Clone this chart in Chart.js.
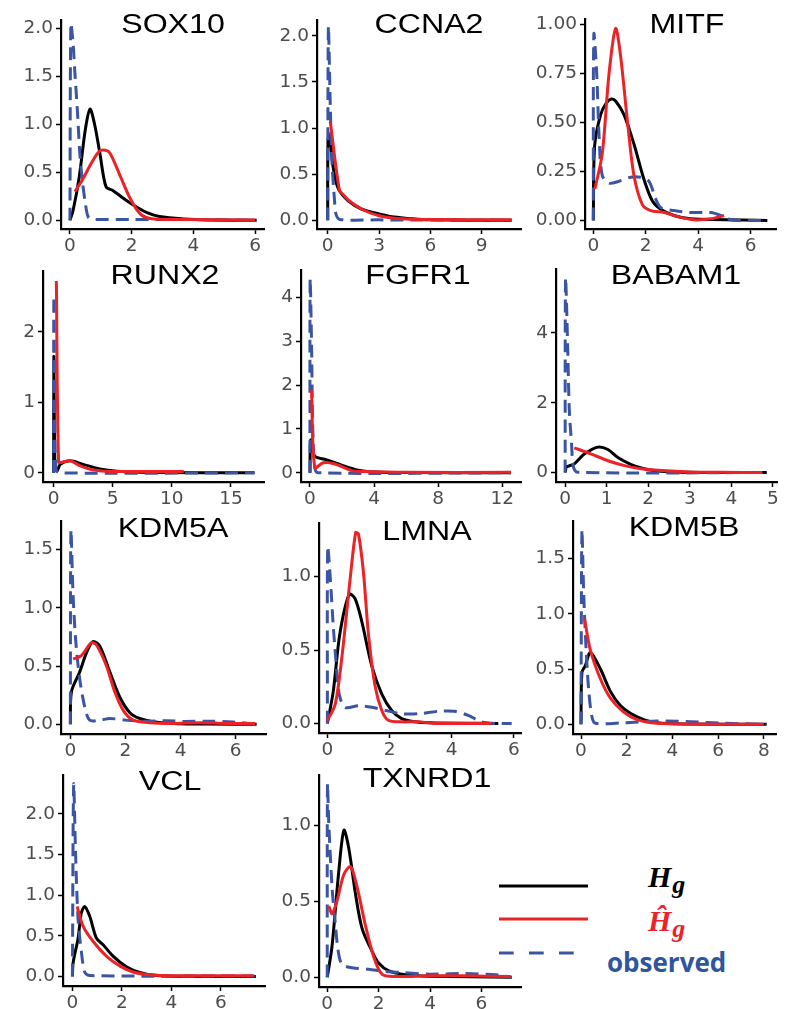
<!DOCTYPE html>
<html>
<head>
<meta charset="utf-8">
<script src="https://cdn.jsdelivr.net/npm/chart.js@4.4.1/dist/chart.umd.min.js"></script>
<style>
  body { margin: 0; background: #fff; }
  #page { position: relative; width: 787px; height: 1009px; overflow: hidden; background: #fff; }
  .panel { position: absolute; }
  .title {
    position: absolute;
    font-family: "Liberation Sans", Arial, sans-serif;
    font-size: 27px;
    line-height: 26px;
    color: #000;
    white-space: nowrap;
    transform: translateX(-50%) scaleX(1.19);
  }
  .lg { position: absolute; white-space: nowrap; }
  .math { font-family: "Liberation Serif", "Times New Roman", serif; font-weight: bold; font-style: italic; font-size: 30px; line-height: 30px; }
  .math .sub { font-size: 26px; position: relative; top: 6px; margin-left: 1px; }
  .obs { font-family: "Open Sans", sans-serif; font-weight: bold; font-size: 26px; line-height: 26px; color: #2f55a0; }
</style>
</head>
<body>
<div id="page">
  <svg class="lg" style="left:495px;top:875px" width="100" height="90">
    <line x1="4" y1="11" x2="93" y2="11" stroke="#000" stroke-width="3"/>
    <line x1="4" y1="44" x2="93" y2="44" stroke="#ec2227" stroke-width="3"/>
    <line x1="4" y1="78" x2="93" y2="78" stroke="#3a55a4" stroke-width="3" stroke-dasharray="14.7 15.3"/>
  </svg>
  <div class="lg math" style="left:648px;top:862px;color:#000">H<span class="sub">g</span></div>
  <div class="lg math" style="left:648px;top:906px;color:#ec2227">Ĥ<span class="sub">g</span></div>
  <div class="lg obs" style="left:607px;top:949px">observed</div>
</div>
<script>
const genes = ["SOX10", "CCNA2", "MITF", "RUNX2", "FGFR1", "BABAM1", "KDM5A", "LMNA", "KDM5B", "VCL", "TXNRD1"];

// H_g (black), H_g hat (red), observed (blue dashed) as [x, density]
const SOX10_H = [[0,0],[0.1,0.1],[0.3,0.45],[0.5,0.95],[0.65,1.16],[0.8,1.0],[0.97,0.7],[1.17,0.35],[1.4,0.31],[1.73,0.23],[2.05,0.16],[2.5,0.08],[2.9,0.04],[3.7,0.015],[4.5,0.005],[6.05,0]];
const SOX10_HAT = [[0.16,0.3],[0.4,0.42],[0.7,0.6],[0.95,0.72],[1.15,0.73],[1.3,0.7],[1.62,0.47],[1.95,0.23],[2.27,0.07],[2.6,0.02],[3.5,0.008],[6,0.005]];
const SOX10_OBS = [[0,0],[0.03,2.05],[0.1,1.85],[0.16,1.54],[0.24,1.15],[0.32,0.7],[0.4,0.42],[0.49,0.2],[0.6,0.03],[0.8,0.01],[2,0.01],[4,0.008],[6.05,0]];

const CCNA2_H = [[0,0],[0.02,0.88],[0.12,0.92],[0.3,0.6],[0.6,0.35],[1.2,0.21],[2,0.12],[3,0.07],[3.9,0.035],[4.9,0.017],[6,0.005],[10.75,0]];
const CCNA2_HAT = [[0.15,1.07],[0.68,0.33],[0.9,0.28],[1.2,0.22],[2,0.12],[3,0.05],[4.3,0.017],[6,0.008],[10.75,0.007]];
const CCNA2_OBS = [[0,0],[0.04,2.1],[0.15,1.25],[0.25,0.63],[0.4,0.21],[0.48,0.07],[0.7,0.01],[3,0.005],[10.75,0]];

const MITF_H = [[0,0],[0.05,0.38],[0.28,0.54],[0.5,0.6],[0.69,0.62],[0.85,0.61],[1.17,0.54],[1.55,0.39],[1.93,0.21],[2.25,0.1],[2.57,0.057],[3.08,0.025],[3.7,0.008],[6.64,0]];
const MITF_HAT = [[0.06,0.16],[0.34,0.34],[0.6,0.75],[0.85,0.98],[1.04,0.84],[1.3,0.51],[1.55,0.23],[1.87,0.08],[2.19,0.05],[2.7,0.04],[3.2,0.02],[3.84,0.003],[4.48,0.008],[4.99,0.025]];
const MITF_OBS = [[0,0],[0.02,0.95],[0.13,0.75],[0.22,0.43],[0.34,0.23],[0.6,0.19],[0.98,0.2],[1.42,0.22],[1.8,0.22],[2.12,0.2],[2.38,0.11],[2.57,0.066],[3.08,0.05],[3.7,0.04],[4.48,0.04],[4.86,0.025],[5.1,0.008],[5.5,0],[6.64,0]];

const RUNX2_H = [[0,0],[0.02,1.65],[0.12,0.05],[0.3,0.03],[0.56,0.12],[1.4,0.17],[2.5,0.12],[3.9,0.055],[5.35,0.023],[8,0.005],[17,0]];
const RUNX2_HAT = [[0.23,2.72],[0.42,0.15],[0.7,0.15],[1.4,0.17],[2.25,0.1],[3.4,0.04],[4.8,0.02],[11,0.02]];
const RUNX2_OBS = [[0,0],[0.02,2.5],[0.1,0.8],[0.2,0.05],[0.5,0],[17,0]];

const FGFR1_H = [[0,0],[0.05,0.75],[0.3,0.38],[1,0.3],[2,0.17],[3,0.06],[4,0.02],[6,0.005],[12.54,0]];
const FGFR1_HAT = [[0.1,1.88],[0.3,0.12],[0.83,0.23],[1.56,0.2],[2.6,0.05],[3.4,0.03],[6,0.01],[12.54,0.01]];
const FGFR1_OBS = [[0,0],[0.01,4.4],[0.1,2.9],[0.15,1.44],[0.2,0.7],[0.3,0.12],[0.5,0],[12.54,0]];

const BABAM1_H = [[0,0],[0.01,0.06],[0.03,0.16],[0.22,0.25],[0.46,0.53],[0.79,0.73],[1.03,0.66],[1.27,0.43],[1.59,0.23],[1.9,0.11],[2.23,0.046],[2.63,0.02],[3.5,0.005],[4.86,0]];
const BABAM1_HAT = [[0.22,0.71],[0.63,0.53],[1.03,0.34],[1.43,0.2],[1.83,0.11],[2.23,0.065],[3.03,0.02],[3.8,0.01],[4.75,0]];
const BABAM1_OBS = [[0,0],[0.01,5.55],[0.06,3.66],[0.1,1.8],[0.15,0.9],[0.2,0.16],[0.3,0.01],[4.86,0]];

const KDM5A_H = [[0,0],[0.04,0.28],[0.34,0.45],[0.58,0.61],[0.82,0.71],[1.07,0.67],[1.43,0.45],[1.8,0.23],[2.16,0.1],[2.52,0.05],[3,0.022],[3.73,0.008],[5,0.002],[6.76,0]];
const KDM5A_HAT = [[0.1,0.56],[0.4,0.59],[0.76,0.7],[0.95,0.68],[1.31,0.5],[1.61,0.28],[1.92,0.12],[2.28,0.036],[2.88,0.014],[3.73,0.008],[4.7,0.014],[5.67,0.008],[6.7,0.008]];
const KDM5A_OBS = [[0,0],[0.02,1.66],[0.1,1.1],[0.2,0.7],[0.34,0.39],[0.52,0.15],[0.7,0.036],[1.07,0.036],[1.43,0.05],[2,0.036],[2.64,0.027],[3.5,0.03],[4.1,0.025],[4.95,0.027],[5.9,0.02],[6.76,0]];

const LMNA_H = [[0,0],[0.19,0.22],[0.4,0.61],[0.7,0.88],[0.89,0.85],[1.1,0.7],[1.43,0.39],[1.75,0.2],[2.07,0.088],[2.39,0.033],[2.82,0.011],[3.25,0.004],[5.5,0]];
const LMNA_HAT = [[0,0.02],[0.25,0.13],[0.46,0.44],[0.73,0.98],[0.91,1.3],[1,1.29],[1.16,1.03],[1.32,0.61],[1.53,0.26],[1.75,0.088],[1.96,0.022],[2.39,0.011],[2.93,0.011],[3.46,0],[5.28,0]];
const LMNA_OBS = [[0,0],[0.01,1.2],[0.09,1],[0.19,0.66],[0.27,0.44],[0.38,0.2],[0.57,0.11],[1,0.12],[1.43,0.11],[1.85,0.09],[2.39,0.066],[2.93,0.066],[3.57,0.083],[4.1,0.083],[4.53,0.055],[4.96,0.011],[5.39,0],[5.93,0]];

const KDM5B_H = [[0,0],[0.04,0.47],[0.19,0.53],[0.41,0.65],[0.85,0.5],[1.28,0.3],[1.72,0.17],[2.16,0.1],[2.74,0.043],[3.33,0.014],[4.5,0.003],[8.12,0]];
const KDM5B_HAT = [[0.15,0.96],[0.41,0.67],[0.85,0.41],[1.28,0.24],[1.87,0.11],[2.45,0.043],[3.33,0.009],[4.8,0.003],[8,0]];
const KDM5B_OBS = [[0,0],[0.04,1.75],[0.12,1.17],[0.23,0.65],[0.34,0.3],[0.48,0.067],[0.63,0.01],[1.87,0.014],[3.33,0.03],[4.8,0.023],[6.2,0.01],[8.12,0]];

const VCL_H = [[0,0],[0.03,0.17],[0.23,0.47],[0.36,0.78],[0.5,0.86],[0.7,0.74],[0.97,0.47],[1.24,0.39],[1.64,0.25],[2.18,0.12],[2.72,0.05],[3.4,0.012],[4.5,0.002],[7.41,0]];
const VCL_HAT = [[0.19,0.86],[0.43,0.62],[0.84,0.43],[1.37,0.25],[1.91,0.13],[2.45,0.055],[3.13,0.02],[4.07,0.008],[7.3,0.008]];
const VCL_OBS = [[0,0],[0.05,2.36],[0.13,1.49],[0.23,0.7],[0.36,0.31],[0.5,0.05],[0.7,0.01],[7.41,0.005]];

const TXNRD1_H = [[0,0],[0.03,0.03],[0.19,0.21],[0.45,0.7],[0.65,0.97],[0.84,0.85],[1.1,0.55],[1.36,0.32],[1.75,0.17],[2,0.095],[2.4,0.042],[3.05,0.017],[3.96,0.008],[7.18,0]];
const TXNRD1_HAT = [[0.06,0.47],[0.19,0.42],[0.39,0.51],[0.65,0.68],[0.91,0.73],[1.17,0.59],[1.49,0.34],[1.82,0.13],[2.14,0.02],[2.66,0.006],[3.96,0.01],[5.26,0.01],[7.14,0.006]];
const TXNRD1_OBS = [[0,0],[0.01,1.27],[0.06,1.02],[0.19,0.59],[0.3,0.38],[0.43,0.17],[0.58,0.085],[0.97,0.064],[1.62,0.053],[2.27,0.038],[2.92,0.032],[3.96,0.021],[5.26,0.025],[6.56,0.017],[7.18,0]];

const hgSeries = [SOX10_H, CCNA2_H, MITF_H, RUNX2_H, FGFR1_H, BABAM1_H, KDM5A_H, LMNA_H, KDM5B_H, VCL_H, TXNRD1_H];
const hatSeries = [SOX10_HAT, CCNA2_HAT, MITF_HAT, RUNX2_HAT, FGFR1_HAT, BABAM1_HAT, KDM5A_HAT, LMNA_HAT, KDM5B_HAT, VCL_HAT, TXNRD1_HAT];
const obsSeries = [SOX10_OBS, CCNA2_OBS, MITF_OBS, RUNX2_OBS, FGFR1_OBS, BABAM1_OBS, KDM5A_OBS, LMNA_OBS, KDM5B_OBS, VCL_OBS, TXNRD1_OBS];

// tick labels
const xTicks = [[0,2,4,6], [0,3,6,9], [0,2,4,6], [0,5,10,15], [0,4,8,12], [0,1,2,3,4,5], [0,2,4,6], [0,2,4,6], [0,2,4,6,8], [0,2,4,6], [0,2,4,6]];
const yTicks = [[0,0.5,1,1.5,2], [0,0.5,1,1.5,2], [0,0.25,0.5,0.75,1], [0,1,2], [0,1,2,3,4], [0,2,4], [0,0.5,1,1.5], [0,0.5,1], [0,0.5,1,1.5], [0,0.5,1,1.5,2], [0,0.5,1]];
const yDecimals = [1, 1, 2, 0, 0, 0, 1, 1, 1, 1, 1];

// plot boxes (page px) and axis ranges
const panels = [
  { l: 61,  t: 12,  r: 264, b: 229, x: [-0.29, 6.29],  y: [-0.09, 2.088],   tx: 173, ty: 24 },
  { l: 317, t: 12,  r: 521, b: 229, x: [-0.626, 11.3], y: [-0.094, 2.17],   tx: 429, ty: 24 },
  { l: 585, t: 11,  r: 776, b: 229, x: [-0.317, 6.97], y: [-0.044, 1.028],  tx: 687, ty: 24 },
  { l: 43,  t: 263, r: 264, b: 482, x: [-0.9, 17.8],   y: [-0.13, 2.86],    tx: 165, ty: 275 },
  { l: 301, t: 262, r: 521, b: 482, x: [-0.56, 13.17], y: [-0.21, 4.62],    tx: 418, ty: 275 },
  { l: 556, t: 261, r: 777, b: 482, x: [-0.22, 5.1],   y: [-0.27, 5.83],    tx: 676, ty: 275 },
  { l: 61,  t: 513, r: 266, b: 734, x: [-0.34, 7.1],   y: [-0.083, 1.743],  tx: 173, ty: 528 },
  { l: 319, t: 515, r: 521, b: 733, x: [-0.27, 6.23],  y: [-0.065, 1.365],  tx: 427, ty: 531 },
  { l: 573, t: 513, r: 776, b: 734, x: [-0.35, 8.53],  y: [-0.0875, 1.8375], tx: 684, ty: 527 },
  { l: 63,  t: 767, r: 265, b: 986, x: [-0.38, 7.78],  y: [-0.118, 2.478],  tx: 170, ty: 781 },
  { l: 319, t: 767, r: 521, b: 987, x: [-0.32, 7.54],  y: [-0.0635, 1.3335], tx: 427, ty: 778 }
];

const YW = 50, TP = 6, RP = 6, XH = 30;
const page = document.getElementById("page");
const toXY = (pairs) => pairs.map(([x, y]) => ({ x, y }));

function axisStyle(tickVals, fmt, isY, size, range) {
  return {
    type: "linear",
    min: range[0],
    max: range[1],
    afterBuildTicks: (axis) => { axis.ticks = tickVals.map((v) => ({ value: v })); },
    afterFit: (axis) => { if (isY) axis.width = size; else axis.height = size; },
    ticks: {
      callback: fmt,
      color: "#4d4d4d",
      font: { family: "DejaVu Sans", size: 18.5 },
      padding: isY ? 3 : 1,
      maxRotation: 0,
      autoSkip: false
    },
    grid: { display: true, drawOnChartArea: false, drawTicks: true, tickLength: 5, tickColor: "#000", tickWidth: 1.5 },
    border: { display: true, color: "#000", width: 2.2 }
  };
}

panels.forEach((p, i) => {
  const box = document.createElement("div");
  box.className = "panel";
  box.style.left = (p.l - YW) + "px";
  box.style.top = (p.t - TP) + "px";
  box.style.width = (YW + (p.r - p.l) + RP) + "px";
  box.style.height = (TP + (p.b - p.t) + XH) + "px";
  const canvas = document.createElement("canvas");
  box.appendChild(canvas);
  page.appendChild(box);

  const title = document.createElement("div");
  title.className = "title";
  title.textContent = genes[i];
  title.style.left = p.tx + "px";
  title.style.top = (p.ty - 13) + "px";
  page.appendChild(title);

  new Chart(canvas, {
    type: "line",
    data: {
      datasets: [
        { label: "Ĥg", data: toXY(hatSeries[i]), borderColor: "#ec2227", borderWidth: 3, tension: 0.3 },
        { label: "observed", data: toXY(obsSeries[i]), borderColor: "#3a55a4", borderWidth: 3, borderDash: [13, 7], tension: 0.3 },
        { label: "Hg", data: toXY(hgSeries[i]), borderColor: "#000", borderWidth: 3, tension: 0.3 }
      ]
    },
    options: {
      responsive: true,
      maintainAspectRatio: false,
      animation: false,
      events: [],
      layout: { padding: { top: TP, right: RP, left: 0, bottom: 0 } },
      elements: { point: { radius: 0 }, line: { fill: false, borderCapStyle: "butt" } },
      plugins: { legend: { display: false }, tooltip: { enabled: false } },
      scales: {
        x: axisStyle(xTicks[i], (v) => String(v), false, XH, p.x),
        y: axisStyle(yTicks[i], (v) => v.toFixed(yDecimals[i]), true, YW, p.y)
      }
    }
  });
});
</script>
</body>
</html>
